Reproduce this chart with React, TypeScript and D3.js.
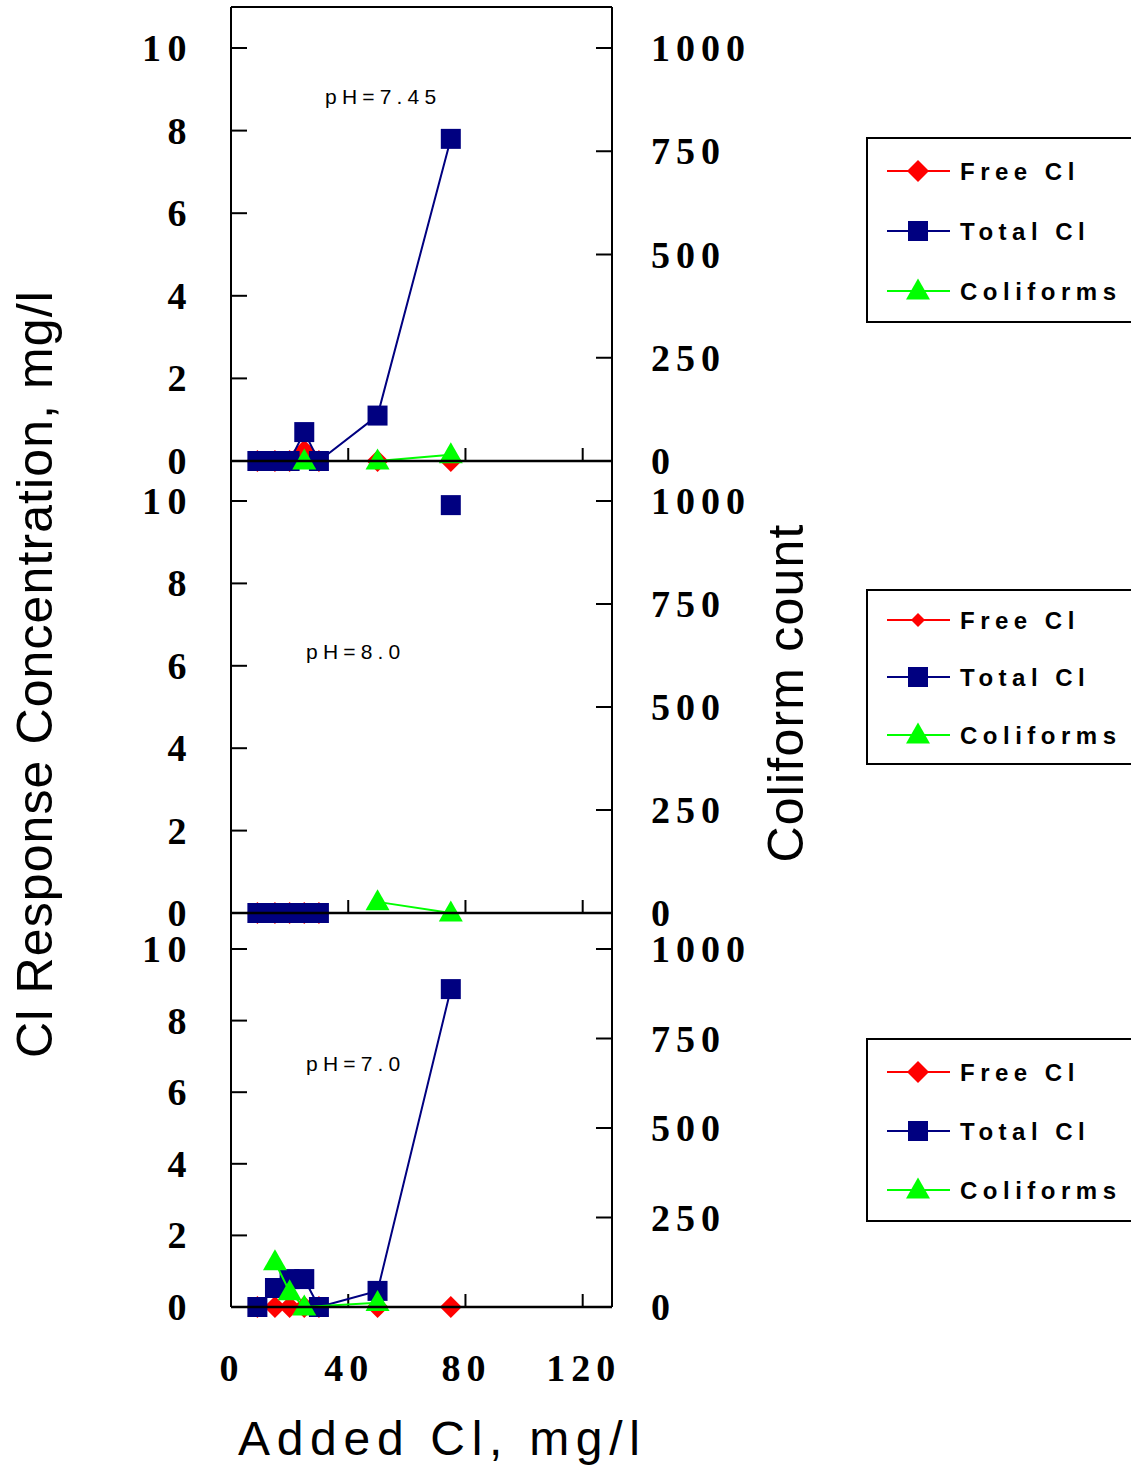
import React from 'react';
import * as d3 from 'd3';

// ---------- data ----------
const addedCl = [9, 15, 20, 25, 30, 50, 75];
const panelLabels = ['pH=7.45', 'pH=8.0', 'pH=7.0'];

const freeCl_pH745: (number | null)[] = [0, 0, 0, 0.25, 0, 0, 0];
const totalCl_pH745: (number | null)[] = [0, 0, 0, 0.7, 0, 1.1, 7.8];
const coliformX_pH745 = [25, 50, 75];
const coliforms_pH745 = [0, 0, 15];

const freeCl_pH80: (number | null)[] = [0, 0, 0, 0, 0, null, null];
const totalCl_pH80: (number | null)[] = [0, 0, 0, 0, 0, null, 9.9];
const coliformX_pH80 = [50, 75];
const coliforms_pH80 = [27, 0];

const freeCl_pH70: (number | null)[] = [0, 0, 0, 0, 0, 0, 0];
const totalCl_pH70: (number | null)[] = [0, 0.53, 0.78, 0.78, 0, 0.45, 8.88];
const coliformX_pH70 = [15, 20, 25, 50];
const coliforms_pH70 = [126, 42, 0, 12];

const leftTicks = [0, 2, 4, 6, 8, 10];
const rightTicks = [0, 250, 500, 750, 1000];
const xTicks = [0, 40, 80, 120];
const legendLabels = ['Free Cl', 'Total Cl', 'Coliforms'];

// ---------- layout ----------
const W = 1131;
const H = 1465;
const X0 = 231;
const X1 = 612;
const FRAME_TOP = 7;
const panelsPx = [
  { top: 48, bottom: 461 },
  { top: 501, bottom: 913 },
  { top: 949, bottom: 1307 },
];
const legendBoxes = [
  { top: 138, bottom: 322, rows: [171, 231, 291], diamond: 11 },
  { top: 590, bottom: 764, rows: [620, 677, 735], diamond: 7 },
  { top: 1039, bottom: 1221, rows: [1072, 1131, 1190], diamond: 11 },
];
const RED = '#ff0000';
const NAVY = '#000080';
const GREEN = '#00ff00';
const SANS = "Arial, 'Liberation Sans', sans-serif";
const SERIF = "'Times New Roman', 'Liberation Serif', serif";

const x = d3.scaleLinear().domain([0, 130]).range([X0, X1]);

const diamondPath = (cx: number, cy: number, r: number) =>
  `M${cx},${cy - r}L${cx + r},${cy}L${cx},${cy + r}L${cx - r},${cy}Z`;
const squarePath = (cx: number, cy: number, h: number) =>
  `M${cx - h},${cy - h}H${cx + h}V${cy + h}H${cx - h}Z`;
const trianglePath = (cx: number, cy: number, w: number, h: number) =>
  `M${cx},${cy - h * 0.6}L${cx + w / 2},${cy + h * 0.4}L${cx - w / 2},${cy + h * 0.4}Z`;

type Panel = {
  free: (number | null)[];
  total: (number | null)[];
  colX: number[];
  col: number[];
};
const panels: Panel[] = [
  { free: freeCl_pH745, total: totalCl_pH745, colX: coliformX_pH745, col: coliforms_pH745 },
  { free: freeCl_pH80, total: totalCl_pH80, colX: coliformX_pH80, col: coliforms_pH80 },
  { free: freeCl_pH70, total: totalCl_pH70, colX: coliformX_pH70, col: coliforms_pH70 },
];
const pHLabelPos = [
  { x: 325, y: 104 },
  { x: 306, y: 659 },
  { x: 306, y: 1071 },
];

function PanelView({ idx }: { idx: number }) {
  const p = panels[idx];
  const px = panelsPx[idx];
  const y = d3.scaleLinear().domain([0, 10]).range([px.bottom, px.top]);
  const yR = d3.scaleLinear().domain([0, 1000]).range([px.bottom, px.top]);
  const pairs = (vals: (number | null)[]) => addedCl.map((a, i) => [a, vals[i]] as [number, number | null]);
  const line = d3
    .line<[number, number | null]>()
    .defined((d) => d[1] != null)
    .x((d) => x(d[0]))
    .y((d) => y(d[1] as number));
  const lineR = d3
    .line<[number, number]>()
    .x((d) => x(d[0]))
    .y((d) => yR(d[1]));
  const freeD = pairs(p.free);
  const totalD = pairs(p.total);
  const colD = p.colX.map((a, i) => [a, p.col[i]] as [number, number]);
  return (
    <g>
      {/* left ticks */}
      {leftTicks.filter((t) => t > 0).map((t) => (
        <line key={'lt' + t} x1={X0} x2={X0 + 16} y1={y(t)} y2={y(t)} stroke="#000" strokeWidth={2} />
      ))}
      {rightTicks.filter((t) => t > 0).map((t) => (
        <line key={'rt' + t} x1={X1} x2={X1 - 16} y1={yR(t)} y2={yR(t)} stroke="#000" strokeWidth={2} />
      ))}
      {xTicks.filter((t) => t > 0).map((t) => (
        <line key={'xt' + t} x1={x(t)} x2={x(t)} y1={px.bottom} y2={px.bottom - 13} stroke="#000" strokeWidth={2} />
      ))}
      {/* left labels */}
      {leftTicks.map((t) => (
        <text key={'ll' + t} x={187 + 6} y={y(t) + 13} textAnchor="end" fontFamily={SERIF} fontWeight="bold"
          fontSize={38} letterSpacing={6.5} fill="#000">{t}</text>
      ))}
      {rightTicks.map((t) => (
        <text key={'rl' + t} x={651} y={yR(t) + 13} textAnchor="start" fontFamily={SERIF} fontWeight="bold"
          fontSize={38} letterSpacing={6} fill="#000">{t}</text>
      ))}
      <text x={pHLabelPos[idx].x} y={pHLabelPos[idx].y} fontFamily={SANS} fontSize={21} letterSpacing={5.2} fill="#000">
        {panelLabels[idx]}
      </text>
      {/* free Cl */}
      <path d={line(freeD) || ''} fill="none" stroke={RED} strokeWidth={2} />
      {freeD.filter((d) => d[1] != null).map((d, i) => (
        <path key={'f' + i} d={diamondPath(x(d[0]), y(d[1] as number), 11)} fill={RED} />
      ))}
      {/* total Cl */}
      <path d={line(totalD) || ''} fill="none" stroke={NAVY} strokeWidth={2} />
      {totalD.filter((d) => d[1] != null).map((d, i) => (
        <path key={'t' + i} d={squarePath(x(d[0]), y(d[1] as number), 10)} fill={NAVY} />
      ))}
      {/* coliforms */}
      <path d={lineR(colD) || ''} fill="none" stroke={GREEN} strokeWidth={2} />
      {colD.map((d, i) => (
        <path key={'c' + i} d={trianglePath(x(d[0]), yR(d[1]), 24, 21)} fill={GREEN} />
      ))}
    </g>
  );
}

function Legend({ idx }: { idx: number }) {
  const b = legendBoxes[idx];
  return (
    <g>
      <rect x={867} y={b.top} width={300} height={b.bottom - b.top} fill="#fff" stroke="#000" strokeWidth={2} />
      {legendLabels.map((lab, i) => {
        const cy = b.rows[i];
        const color = i === 0 ? RED : i === 1 ? NAVY : GREEN;
        const marker =
          i === 0 ? diamondPath(918, cy, b.diamond) : i === 1 ? squarePath(918, cy, 10) : trianglePath(918, cy, 24, 21);
        return (
          <g key={lab}>
            <line x1={887} x2={950} y1={cy} y2={cy} stroke={color} strokeWidth={2} />
            <path d={marker} fill={color} />
            <text x={960} y={cy + 9} fontFamily={SANS} fontWeight="bold" fontSize={24} letterSpacing={5.5} fill="#000">
              {lab}
            </text>
          </g>
        );
      })}
    </g>
  );
}

export default function App() {
  return (
    <svg width={W} height={H} style={{ position: 'absolute', left: 0, top: 0, background: '#fff' }}>
      <rect x={0} y={0} width={W} height={H} fill="#fff" />
      {[0, 1, 2].map((i) => (
        <PanelView key={i} idx={i} />
      ))}
      {/* frame */}
      <line x1={X0} x2={X1} y1={FRAME_TOP} y2={FRAME_TOP} stroke="#000" strokeWidth={2} />
      <line x1={X0} x2={X0} y1={FRAME_TOP} y2={panelsPx[2].bottom} stroke="#000" strokeWidth={2} />
      <line x1={X1} x2={X1} y1={FRAME_TOP} y2={panelsPx[2].bottom} stroke="#000" strokeWidth={2} />
      {panelsPx.map((p, i) => (
        <line key={'h' + i} x1={X0} x2={X1} y1={p.bottom} y2={p.bottom} stroke="#000" strokeWidth={2.5} />
      ))}
      {/* x tick labels */}
      {xTicks.map((t) => (
        <text key={'xl' + t} x={x(t) + 1} y={1381} textAnchor="middle" fontFamily={SERIF} fontWeight="bold"
          fontSize={38} letterSpacing={6} fill="#000">{t}</text>
      ))}
      {/* axis titles */}
      <text x={238} y={1455} fontFamily={SANS} fontSize={48} letterSpacing={6.7} fill="#000">Added Cl, mg/l</text>
      <text transform={`translate(52,674) rotate(-90)`} textAnchor="middle" fontFamily={SANS} fontSize={50}
        letterSpacing={1.1} fill="#000">Cl Response Concentration, mg/l</text>
      <text transform={`translate(803,693) rotate(-90)`} textAnchor="middle" fontFamily={SANS} fontSize={50}
        letterSpacing={1.2} fill="#000">Coliform count</text>
      {legendBoxes.map((_, i) => (
        <Legend key={'lg' + i} idx={i} />
      ))}
    </svg>
  );
}
